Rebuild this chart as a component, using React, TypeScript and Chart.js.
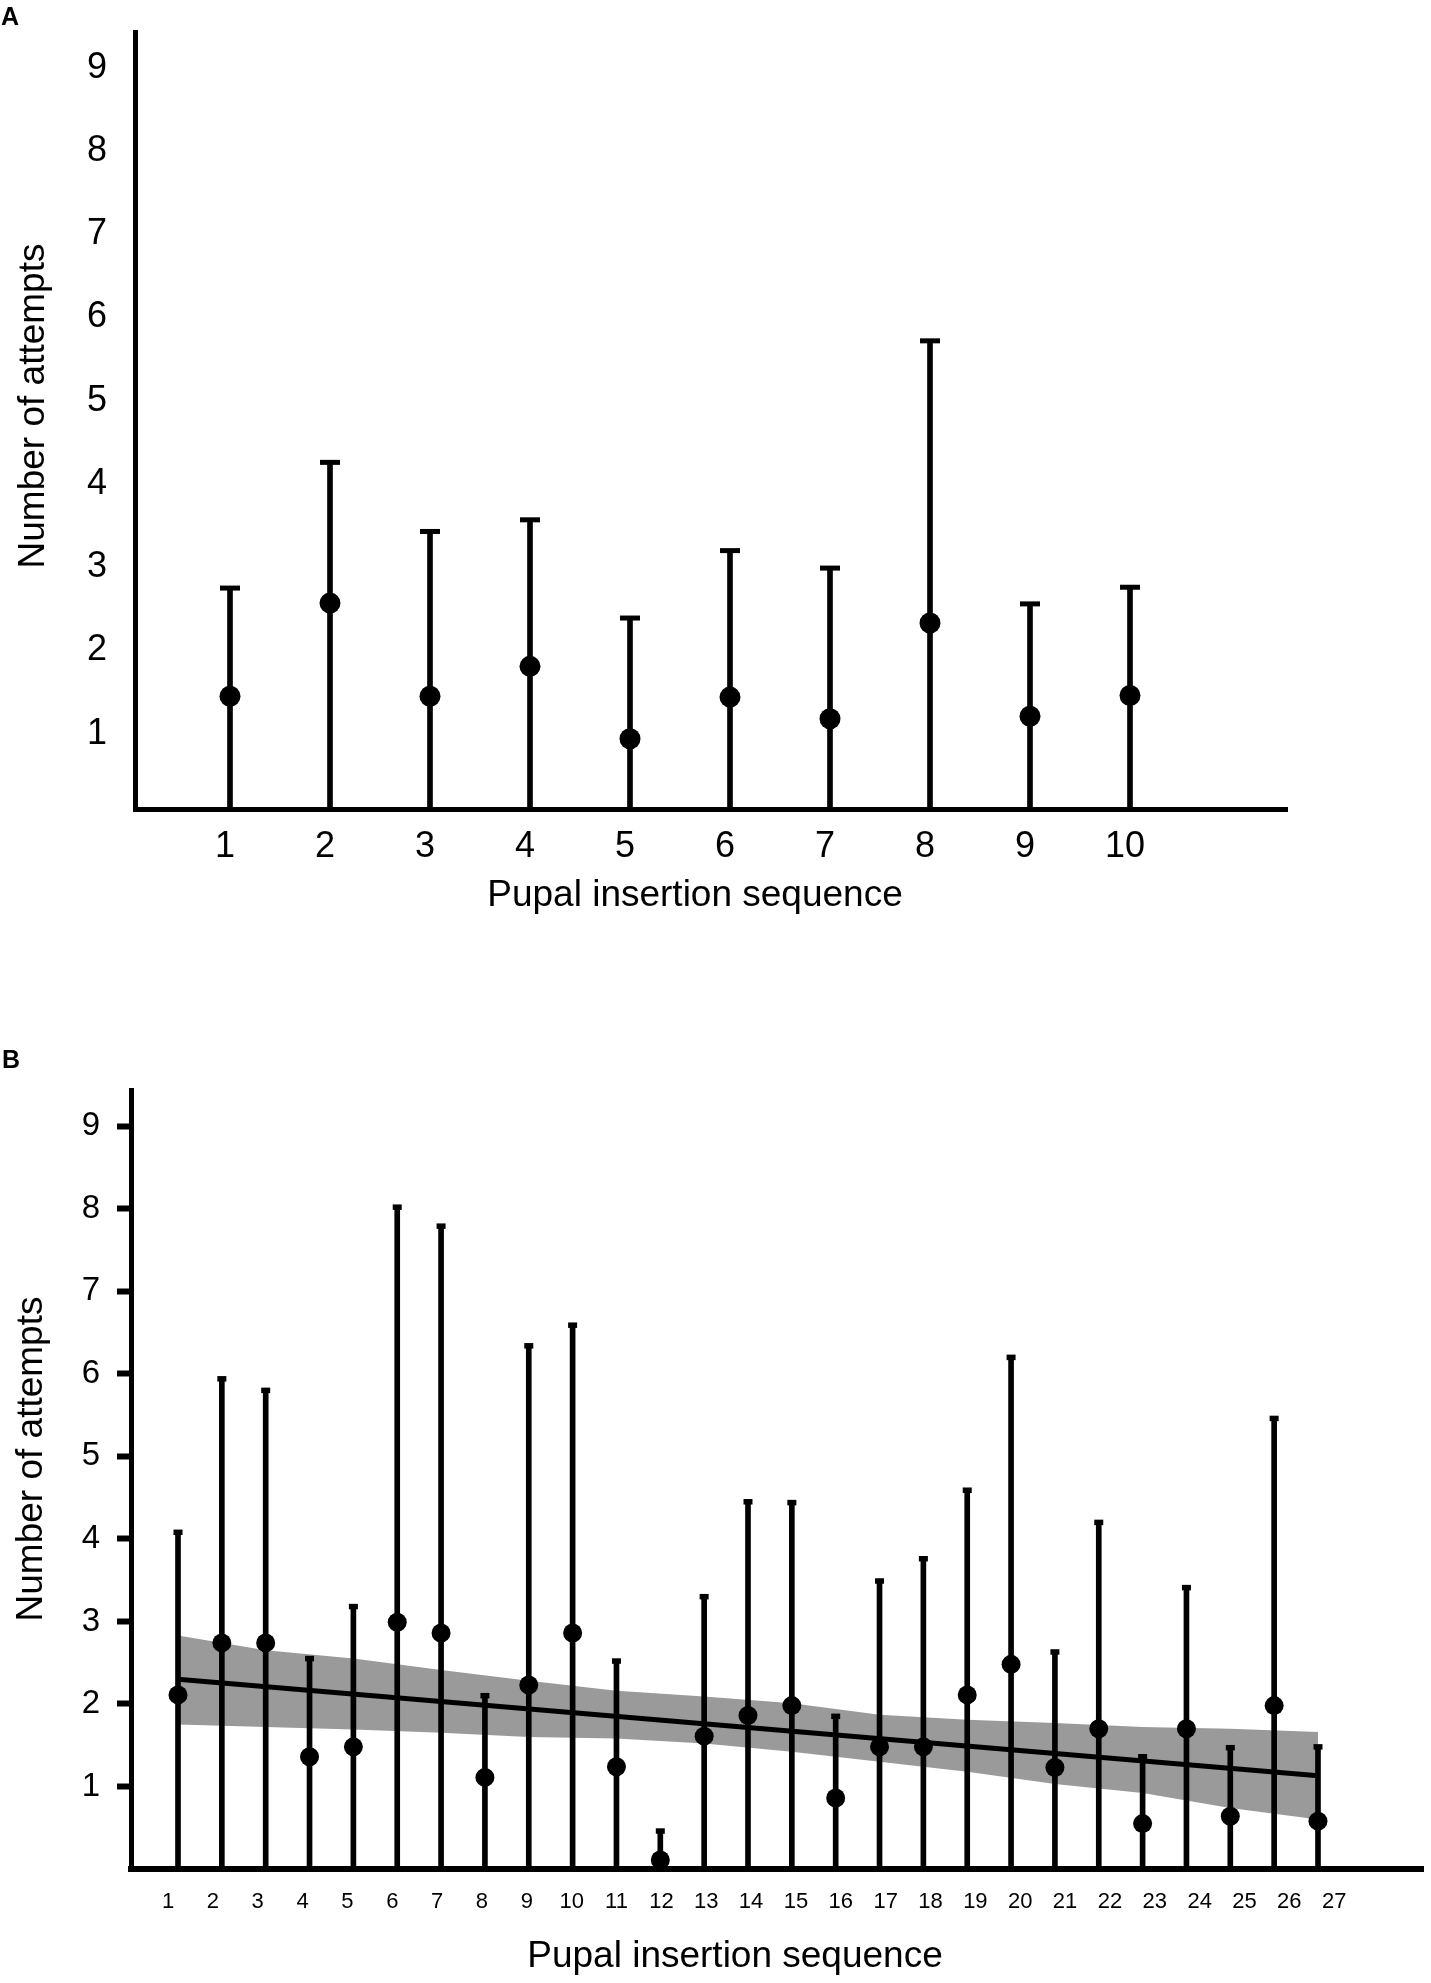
import React, { useEffect, useRef } from 'react';
import { Chart, registerables } from 'chart.js';

Chart.register(...registerables);

const FONT = "'Liberation Sans', Arial, Helvetica, sans-serif";

// ---------------- Panel A data ----------------
const seqA = [1, 2, 3, 4, 5, 6, 7, 8, 9, 10];
const meanA = [1.45, 2.57, 1.45, 1.81, 0.94, 1.44, 1.18, 2.33, 1.21, 1.46];
const upperA = [2.75, 4.26, 3.43, 3.57, 2.39, 3.2, 2.99, 5.72, 2.56, 2.76];
const xTicksA = [1, 2, 3, 4, 5, 6, 7, 8, 9, 10];
const yTicksA = [1, 2, 3, 4, 5, 6, 7, 8, 9];

// ---------------- Panel B data ----------------
const seqB = [1, 2, 3, 4, 5, 6, 7, 8, 9, 10, 11, 12, 13, 14, 15, 16, 17, 18, 19, 20, 21, 22, 23, 24, 25, 26, 27];
const meanB = [2.11, 2.74, 2.74, 1.36, 1.48, 2.99, 2.86, 1.11, 2.23, 2.86, 1.24, 0.11, 1.61, 1.86, 1.98, 0.86, 1.48, 1.48, 2.11, 2.48, 1.23, 1.7, 0.55, 1.7, 0.64, 1.98, 0.58];
const upperB = [4.08, 5.94, 5.8, 2.55, 3.18, 8.02, 7.79, 2.1, 6.34, 6.59, 2.52, 0.46, 3.3, 4.45, 4.44, 1.85, 3.49, 3.76, 4.59, 6.2, 2.63, 4.2, 1.36, 3.41, 1.47, 5.46, 1.48];
const fitX = [1, 27];
const fitY = [2.3, 1.13];
const bandX = [1, 3, 5, 7, 9, 11, 13, 15, 17, 19, 21, 23, 25, 27];
const bandUpper = [2.83, 2.65, 2.55, 2.41, 2.28, 2.16, 2.09, 2.01, 1.87, 1.81, 1.77, 1.72, 1.7, 1.66];
const bandLower = [1.75, 1.72, 1.69, 1.65, 1.6, 1.58, 1.52, 1.42, 1.3, 1.18, 1.03, 0.92, 0.74, 0.6];
const xTicksB = seqB;
const yTicksB = [1, 2, 3, 4, 5, 6, 7, 8, 9];

const panelText = {
  id: 'panelText',
  afterDraw(chart: any, _args: any, opts: any) {
    const ctx = chart.ctx;
    ctx.save();
    ctx.fillStyle = '#000';
    ctx.font = `bold 25px ${FONT}`;
    ctx.textAlign = 'left';
    ctx.textBaseline = 'alphabetic';
    ctx.fillText(opts.letter, opts.letterX, opts.letterY);
    ctx.font = `37px ${FONT}`;
    ctx.textAlign = 'center';
    ctx.textBaseline = 'middle';
    ctx.fillText(opts.xTitle, opts.xTitleX, opts.xTitleY);
    ctx.translate(opts.yTitleX, opts.yTitleY);
    ctx.rotate(-Math.PI / 2);
    ctx.fillText(opts.yTitle, 0, 0);
    ctx.restore();
  },
};

const pts = (xs: number[], ys: number[]) => xs.map((x, i) => ({ x, y: ys[i] }));

// fix a scale's box size and drop the label overflow padding Chart.js adds
const fixBox = (dim: 'width' | 'height', size: number) => (s: any) => {
  s[dim] = size;
  s.paddingTop = 0;
  s.paddingBottom = 0;
  s.paddingLeft = 0;
  s.paddingRight = 0;
};

function configA(): any {
  return {
    type: 'scatter',
    plugins: [panelText],
    data: {
      datasets: [
        {
          type: 'scatter', label: 'Mean', data: pts(seqA, meanA), xAxisID: 'x', yAxisID: 'y',
          pointRadius: 10.5, pointBackgroundColor: '#000', pointBorderColor: '#000', pointBorderWidth: 0, order: 0,
        },
        {
          type: 'scatter', label: 'Cap', data: pts(seqA, upperA), xAxisID: 'x', yAxisID: 'y',
          pointStyle: 'line', pointRadius: 10, pointBorderWidth: 5, pointBorderColor: '#000', order: 1,
        },
        {
          type: 'bar', label: 'SD', data: seqA.map((x, i) => ({ x, y: [0, upperA[i]] })), xAxisID: 'x', yAxisID: 'y',
          backgroundColor: '#000', borderWidth: 0, barThickness: 5, clip: 0, order: 2,
        },
      ],
    },
    options: {
      responsive: false,
      animation: false,
      devicePixelRatio: 1,
      layout: { autoPadding: false, padding: { left: 0, right: 144, top: 32, bottom: 0 } },
      plugins: {
        legend: { display: false },
        tooltip: { enabled: false },
        panelText: {
          letter: 'A', letterX: 1, letterY: 25,
          xTitle: 'Pupal insertion sequence', xTitleX: 695, xTitleY: 896,
          yTitle: 'Number of attempts', yTitleX: 34, yTitleY: 406,
        },
      },
      scales: {
        x: {
          type: 'linear', position: 'bottom', min: 0.05, max: 11.57, offset: false, bounds: 'data',
          grid: { display: false, drawTicks: false },
          border: { display: true, color: '#000', width: 5 },
          ticks: { color: '#000', font: { family: FONT, size: 36 }, padding: 16, labelOffset: -5, autoSkip: false, maxRotation: 0, minRotation: 0 },
          afterBuildTicks: (s: any) => { s.ticks = xTicksA.map((v) => ({ value: v })); },
          afterFit: fixBox('height', 176),
        },
        y: {
          type: 'linear', position: 'left', min: 0.096, max: 9.43, bounds: 'data',
          grid: { display: false, drawTicks: false },
          border: { display: true, color: '#000', width: 5 },
          ticks: { color: '#000', font: { family: FONT, size: 36 }, padding: 28 },
          afterBuildTicks: (s: any) => { s.ticks = yTicksA.map((v) => ({ value: v })); },
          afterFit: fixBox('width', 135),
        },
      },
    },
  };
}

function configB(): any {
  return {
    type: 'scatter',
    plugins: [panelText],
    data: {
      datasets: [
        {
          type: 'scatter', label: 'Mean', data: pts(seqB, meanB), xAxisID: 'x', yAxisID: 'y',
          pointRadius: 9.5, pointBackgroundColor: '#000', pointBorderColor: '#000', pointBorderWidth: 0, order: 0,
        },
        {
          type: 'scatter', label: 'Cap', data: pts(seqB, upperB), xAxisID: 'x', yAxisID: 'y',
          pointStyle: 'line', pointRadius: 4.5, pointBorderWidth: 5.5, pointBorderColor: '#000', order: 1,
        },
        {
          type: 'bar', label: 'SD', data: seqB.map((x, i) => ({ x, y: [0, upperB[i]] })), xAxisID: 'x', yAxisID: 'y',
          backgroundColor: '#000', borderWidth: 0, barThickness: 5, clip: 0, order: 2,
        },
        {
          type: 'line', label: 'Fit', data: pts(fitX, fitY), xAxisID: 'x', yAxisID: 'y',
          borderColor: '#000', borderWidth: 5, pointRadius: 0, fill: false, tension: 0, order: 3,
        },
        {
          type: 'line', label: 'CI upper', data: pts(bandX, bandUpper), xAxisID: 'x', yAxisID: 'y',
          borderColor: 'rgba(0,0,0,0)', borderWidth: 0, pointRadius: 0, backgroundColor: '#9a9a9a', fill: '+1', tension: 0, order: 5,
        },
        {
          type: 'line', label: 'CI lower', data: pts(bandX, bandLower), xAxisID: 'x', yAxisID: 'y',
          borderColor: 'rgba(0,0,0,0)', borderWidth: 0, pointRadius: 0, fill: false, tension: 0, order: 6,
        },
      ],
    },
    options: {
      responsive: false,
      animation: false,
      devicePixelRatio: 1,
      layout: { autoPadding: false, padding: { left: 0, right: 8, top: 105, bottom: 0 } },
      plugins: {
        legend: { display: false },
        tooltip: { enabled: false },
        panelText: {
          letter: 'B', letterX: 2, letterY: 83,
          xTitle: 'Pupal insertion sequence', xTitleX: 735, xTitleY: 972,
          yTitle: 'Number of attempts', yTitleX: 32, yTitleY: 474,
        },
      },
      scales: {
        x: {
          type: 'linear', position: 'bottom', weight: 0, min: -0.072, max: 29.395, offset: false, bounds: 'data',
          grid: { display: false, drawTicks: false },
          border: { display: true, color: '#000', width: 6 },
          ticks: { display: false },
          afterFit: fixBox('height', 0),
        },
        xl: {
          type: 'linear', position: 'bottom', weight: 1, min: 0.175, max: 28.98, offset: false, bounds: 'data',
          grid: { display: false, drawTicks: false },
          border: { display: false },
          ticks: { color: '#000', font: { family: FONT, size: 22 }, padding: 20, autoSkip: false, maxRotation: 0, minRotation: 0 },
          afterBuildTicks: (s: any) => { s.ticks = xTicksB.map((v) => ({ value: v })); },
          afterFit: fixBox('height', 114),
        },
        y: {
          type: 'linear', position: 'left', min: 0, max: 9.44, bounds: 'data',
          grid: { display: true, drawOnChartArea: false, drawTicks: true, tickLength: 14, tickWidth: 6, tickColor: '#000', color: '#000' },
          border: { display: true, color: '#000', width: 5 },
          ticks: { color: '#000', font: { family: FONT, size: 33 }, padding: 17 },
          afterBuildTicks: (s: any) => { s.ticks = yTicksB.map((v) => ({ value: v })); },
          afterFit: fixBox('width', 131),
        },
      },
    },
  };
}

export default function App() {
  const refA = useRef<HTMLCanvasElement>(null);
  const refB = useRef<HTMLCanvasElement>(null);

  useEffect(() => {
    const a = new Chart(refA.current as HTMLCanvasElement, configA());
    const b = new Chart(refB.current as HTMLCanvasElement, configB());
    return () => {
      a.destroy();
      b.destroy();
    };
  }, []);

  return (
    <div style={{ position: 'absolute', left: 0, top: 0, width: 1431, height: 1983, background: '#fff' }}>
      <canvas ref={refA} width={1431} height={985} style={{ position: 'absolute', left: 0, top: 0, width: 1431, height: 985 }} />
      <canvas ref={refB} width={1431} height={998} style={{ position: 'absolute', left: 0, top: 985, width: 1431, height: 998 }} />
    </div>
  );
}
